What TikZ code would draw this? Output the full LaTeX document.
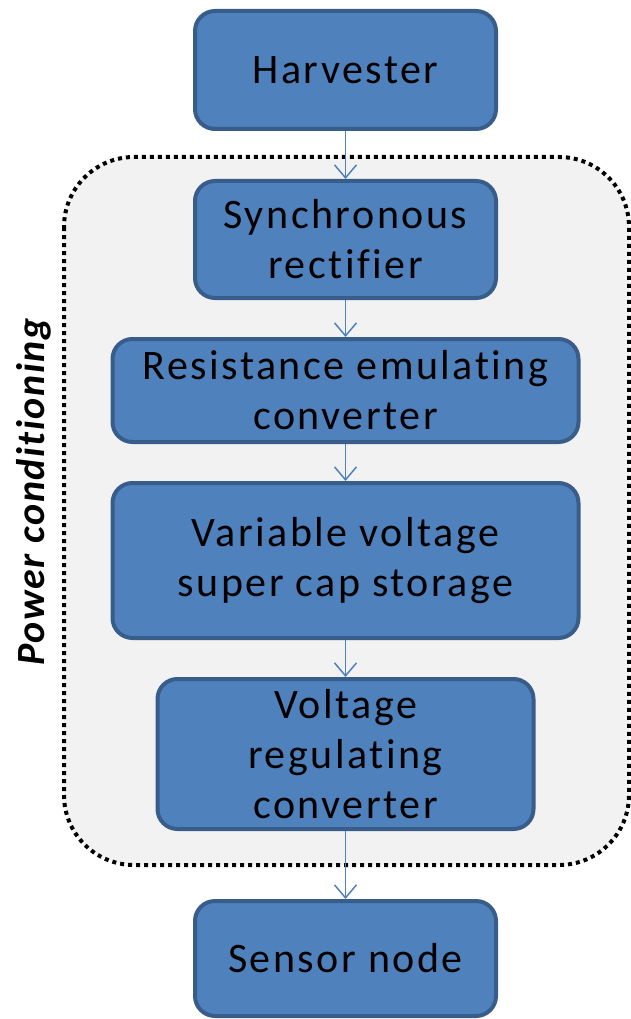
\documentclass[tikz,border=0pt]{standalone}
\usepackage{fontspec}
\setmainfont{Carlito}[LetterSpace=6,Ligatures=NoCommon]
\newfontfamily\pcfont{Carlito}[LetterSpace=4,Ligatures=NoCommon]
\usetikzlibrary{arrows.meta}
\definecolor{boxfill}{HTML}{4F81BD}
\definecolor{boxline}{HTML}{385D8A}
\definecolor{regionfill}{HTML}{F2F2F2}
\begin{document}
\begin{tikzpicture}[x=1pt,y=-1pt,
  blk/.style={draw=boxline,line width=4pt,fill=boxfill,rounded corners=20pt,
    align=center,font=\fontsize{42}{50}\selectfont,text=black,inner sep=0pt},
  conn/.style={draw=boxfill,line width=1.5pt,-{Straight Barb[length=13pt,width=22pt,line width=1.5pt]}}]
\useasboundingbox (0,0) rectangle (631,1019);
% region
\draw[fill=regionfill,draw=black,line width=4pt,dash pattern=on 4pt off 4pt,rounded corners=70pt]
  (64,157) rectangle (629,865);
\node[rotate=90,font=\fontsize{40}{44}\pcfont\bfseries\itshape] (pc) at (34,492) {Power conditioning};
% boxes
\node[blk,minimum width=301pt,minimum height=118pt] (h) at (345.5,70) {Harvester};
\node[blk,minimum width=301pt,minimum height=117pt] (s) at (345.5,239.5) {Synchronous\\rectifier};
\node[blk,minimum width=466pt,minimum height=103pt] (r) at (345.5,390.5) {Resistance emulating\\converter};
\node[blk,minimum width=466pt,minimum height=155pt] (v) at (345.5,560.5) {Variable voltage\\super cap storage};
\node[blk,minimum width=376pt,minimum height=150pt] (g) at (345.5,754) {Voltage\\regulating\\converter};
\node[blk,minimum width=301pt,minimum height=115pt] (n) at (345.5,958.5) {Sensor node};
% connectors
\draw[conn] (h.south) -- (s.north);
\draw[conn] (s.south) -- (r.north);
\draw[conn] (r.south) -- (v.north);
\draw[conn] (v.south) -- (g.north);
\draw[conn] (g.south) -- (n.north);
\end{tikzpicture}
\end{document}
